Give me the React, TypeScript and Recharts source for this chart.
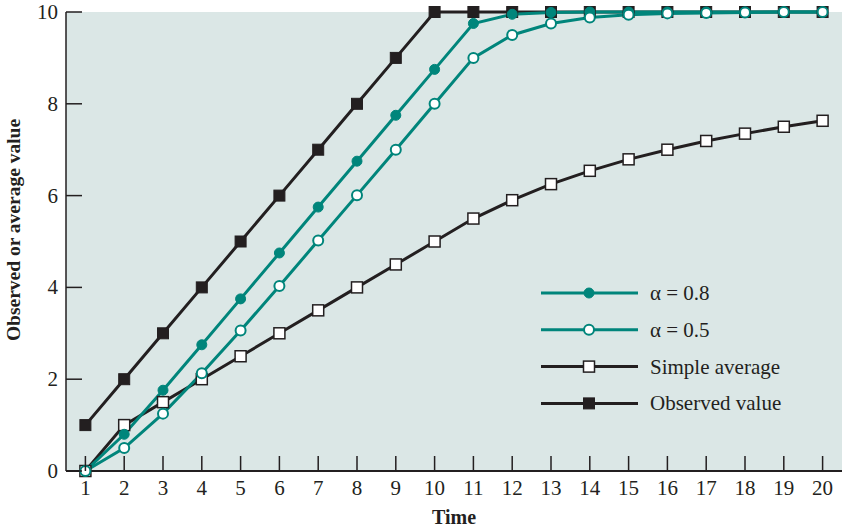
import * as React from 'react';
import {
  LineChart,
  Line,
  XAxis,
  YAxis,
  CartesianGrid
} from 'recharts';

const times = [1, 2, 3, 4, 5, 6, 7, 8, 9, 10, 11, 12, 13, 14, 15, 16, 17, 18, 19, 20];
const observed = [1, 2, 3, 4, 5, 6, 7, 8, 9, 10, 10, 10, 10, 10, 10, 10, 10, 10, 10, 10];
const simpleAverage = [0, 1, 1.5, 2, 2.5, 3, 3.5, 4, 4.5, 5, 5.5, 5.9, 6.25, 6.54, 6.79, 7, 7.19, 7.35, 7.5, 7.63];
const alpha08 = [0, 0.8, 1.76, 2.75, 3.75, 4.75, 5.75, 6.75, 7.75, 8.75, 9.75, 9.95, 9.99, 10, 10, 10, 10, 10, 10, 10];
const alpha05 = [0, 0.5, 1.25, 2.13, 3.06, 4.03, 5.02, 6.01, 7, 8, 9, 9.5, 9.75, 9.88, 9.94, 9.97, 9.98, 9.99, 10, 10];
const yTicks = [0, 2, 4, 6, 8, 10];

const TEAL = '#00857b';
const INK = '#231f20';
const FONT = '"Liberation Serif", "Times New Roman", serif';

const data = times.map((t, i) => ({
  t,
  observed: observed[i],
  simple: simpleAverage[i],
  a08: alpha08[i],
  a05: alpha05[i]
}));

// marker shapes
const marker = (kind: string, cx: number, cy: number, key?: any) => {
  if (kind === 'fillCircle')
    return <circle key={key} cx={cx} cy={cy} r={5} fill={TEAL} stroke={TEAL} strokeWidth={1} />;
  if (kind === 'openCircle')
    return <circle key={key} cx={cx} cy={cy} r={5} fill="#fff" stroke={TEAL} strokeWidth={2} />;
  if (kind === 'openSquare')
    return <rect key={key} x={cx - 5.5} y={cy - 5.5} width={11} height={11} fill="#fff" stroke={INK} strokeWidth={1.5} />;
  return <rect key={key} x={cx - 5.5} y={cy - 5.5} width={11} height={11} fill={INK} stroke={INK} strokeWidth={1} />;
};

const legendItems = [
  { label: 'α = 0.8', color: TEAL, kind: 'fillCircle' },
  { label: 'α = 0.5', color: TEAL, kind: 'openCircle' },
  { label: 'Simple average', color: INK, kind: 'openSquare' },
  { label: 'Observed value', color: INK, kind: 'fillSquare' }
];

// legend sits inside the plot area, drawn on top
const LegendBox = () => (
  <svg width={290} height={140} style={{ position: 'absolute', left: 535, top: 278 }}>
    {legendItems.map((it, i) => {
      const y = 15 + i * 36.8;
      return (
        <g key={it.label}>
          <line x1={6} x2={103} y1={y} y2={y} stroke={it.color} strokeWidth={3} />
          {marker(it.kind, 54, y)}
          <text x={115} y={y + 7} fontSize={21} fontFamily={FONT} fill={INK}>
            {it.label}
          </text>
        </g>
      );
    })}
  </svg>
);

const YTick = (props: any) => {
  const { x, y, payload } = props;
  const ax = x + 8;
  return (
    <g>
      <line x1={ax} x2={ax + 16} y1={y} y2={y} stroke={INK} strokeWidth={1.5} />
      <text x={x} y={y + 7} textAnchor="end" fontSize={21} fontFamily={FONT} fill={INK}>
        {payload.value}
      </text>
    </g>
  );
};

const XTick = (props: any) => {
  const { x, y, payload } = props;
  const ay = y - 4;
  return (
    <g>
      <line x1={x} x2={x} y1={ay} y2={ay - 15} stroke={INK} strokeWidth={1.5} />
      <text x={x} y={ay + 24} textAnchor="middle" fontSize={21} fontFamily={FONT} fill={INK}>
        {payload.value}
      </text>
    </g>
  );
};

const labelStyle = { fontFamily: FONT, fontWeight: 'bold', fill: INK };

const dotOf = (kind: string) => (p: any) => marker(kind, p.cx, p.cy, p.index);

export default function App() {
  return (
    <div style={{ position: 'absolute', left: 0, top: 0, width: 842, height: 532 }}>
      <LineChart
        width={842}
        height={532}
        data={data}
        margin={{ top: 12, right: 0, bottom: 0, left: 0 }}
      >
        <CartesianGrid fill="#dbe7e6" horizontal={false} vertical={false} stroke="none" />
        <XAxis
          dataKey="t"
          type="number"
          domain={[0.5, 20.5]}
          ticks={times}
          interval={0}
          height={61}
          tickSize={0}
          tickMargin={4}
          tick={<XTick />}
          axisLine={{ stroke: INK, strokeWidth: 2 }}
          label={() => (
            <text x={454} y={524} textAnchor="middle" fontSize={20} style={labelStyle}>
              Time
            </text>
          )}
        />
        <YAxis
          type="number"
          domain={[0, 10]}
          ticks={yTicks}
          width={66}
          tickSize={0}
          tickMargin={8}
          tick={<YTick />}
          axisLine={{ stroke: INK, strokeWidth: 1.5 }}
          label={() => (
            <text
              x={20}
              y={230}
              transform="rotate(-90 20 230)"
              textAnchor="middle"
              fontSize={19.5}
              style={labelStyle}
            >
              Observed or average value
            </text>
          )}
        />
        <Line dataKey="observed" stroke={INK} strokeWidth={3} dot={dotOf('fillSquare')} isAnimationActive={false} />
        <Line dataKey="simple" stroke={INK} strokeWidth={3} dot={dotOf('openSquare')} isAnimationActive={false} />
        <Line dataKey="a08" stroke={TEAL} strokeWidth={3} dot={dotOf('fillCircle')} isAnimationActive={false} />
        <Line dataKey="a05" stroke={TEAL} strokeWidth={3} dot={dotOf('openCircle')} isAnimationActive={false} />
      </LineChart>
      <LegendBox />
    </div>
  );
}
